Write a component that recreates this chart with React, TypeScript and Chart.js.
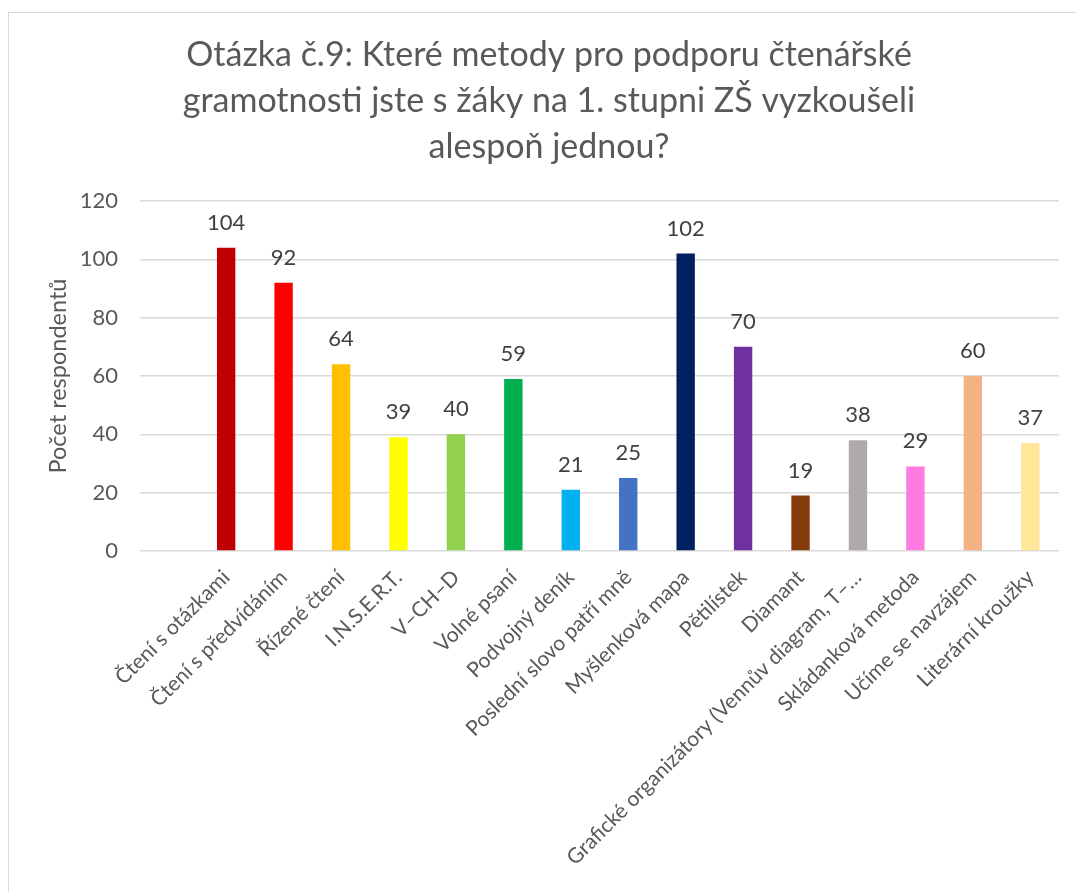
import React, { useEffect, useRef } from "react";
import { Chart, registerables } from "chart.js";

Chart.register(...registerables);

const titleLines = [
  "Otázka č.9: Které metody pro podporu čtenářské",
  "gramotnosti jste s žáky na 1. stupni ZŠ vyzkoušeli",
  "alespoň jednou?",
];

const categories = [
  "",
  "Čtení s otázkami",
  "Čtení s předvídáním",
  "Řízené čtení",
  "I.N.S.E.R.T.",
  "V–CH–D",
  "Volné psaní",
  "Podvojný deník",
  "Poslední slovo patří mně",
  "Myšlenková mapa",
  "Pětilístek",
  "Diamant",
  "Grafické organizátory (Vennův diagram, T–…",
  "Skládanková metoda",
  "Učíme se navzájem",
  "Literární kroužky",
];

const values: (number | null)[] = [
  null, 104, 92, 64, 39, 40, 59, 21, 25, 102, 70, 19, 38, 29, 60, 37,
];

const barColors = [
  "#ffffff",
  "#C00000",
  "#FF0000",
  "#FFC000",
  "#FFFF00",
  "#92D050",
  "#00B050",
  "#00B0F0",
  "#4472C4",
  "#002060",
  "#7030A0",
  "#843C0C",
  "#AEAAAA",
  "#FF7BE3",
  "#F4B183",
  "#FFE699",
];

const yTicks = [0, 20, 40, 60, 80, 100, 120];
const yAxisTitle = "Počet respondentů";

const FONT = "Lato, 'Open Sans', sans-serif";

const dataLabelPlugin = {
  id: "dataLabels",
  afterDatasetsDraw(chart: any) {
    const ctx = chart.ctx;
    const meta = chart.getDatasetMeta(0);
    ctx.save();
    ctx.font = `22px ${FONT}`;
    ctx.fillStyle = "#404040";
    ctx.textAlign = "center";
    ctx.textBaseline = "alphabetic";
    meta.data.forEach((bar: any, i: number) => {
      const v = values[i];
      if (v == null) return;
      ctx.fillText(String(v), bar.x, bar.y - 18);
    });
    ctx.restore();
  },
};

const titlePlugin = {
  id: "customTitle",
  afterDraw(chart: any) {
    const ctx = chart.ctx;
    ctx.save();
    ctx.font = `34px ${FONT}`;
    ctx.fillStyle = "#595959";
    ctx.textAlign = "center";
    ctx.textBaseline = "alphabetic";
    titleLines.forEach((line, i) => {
      ctx.fillText(line, 549, 66 + i * 46);
    });
    ctx.restore();
  },
};

export default function App() {
  const ref = useRef<HTMLCanvasElement | null>(null);

  useEffect(() => {
    if (!ref.current) return;
    const chart = new Chart(ref.current, {
      type: "bar",
      data: {
        labels: categories,
        datasets: [
          {
            data: values as any,
            backgroundColor: barColors,
            barPercentage: 0.32,
            categoryPercentage: 1,
          },
        ],
      },
      options: {
        animation: false,
        responsive: true,
        maintainAspectRatio: false,
        layout: { padding: { left: 0, right: 17, top: 201, bottom: 0 } },
        plugins: {
          legend: { display: false },
          tooltip: { enabled: false },
          title: { display: false },
        },
        scales: {
          x: {
            grid: { display: false, drawTicks: false },
            border: { display: false },
            ticks: {
              autoSkip: false,
              maxRotation: 45,
              minRotation: 45,
              padding: 14,
              color: "#595959",
              font: { family: FONT, size: 21 },
            },
            afterFit: (scale: any) => {
              scale.height = 341;
            },
          },
          y: {
            min: 0,
            max: 120,
            afterBuildTicks: (scale: any) => {
              scale.ticks = yTicks.map((v) => ({ value: v }));
            },
            grid: { color: "#d9d9d9", lineWidth: 1.5, drawTicks: false },
            border: { display: false },
            ticks: {
              padding: 22,
              color: "#595959",
              font: { family: FONT, size: 22 },
            },
            title: {
              display: true,
              text: yAxisTitle,
              color: "#595959",
              font: { family: FONT, size: 23.5 },
              padding: { top: 44, bottom: 0 },
            },
            afterFit: (scale: any) => {
              scale.width = 140;
            },
          },
        },
      },
      plugins: [dataLabelPlugin, titlePlugin],
    });
    return () => chart.destroy();
  }, []);

  return (
    <div style={{ position: "absolute", left: 0, top: 0, width: 1076, height: 892, overflow: "hidden", background: "#fff" }}>
      <div
        style={{
          position: "absolute",
          left: 8,
          top: 12,
          width: 1200,
          height: 1000,
          borderLeft: "1.5px solid #d9d9d9",
          borderTop: "1.5px solid #d9d9d9",
        }}
      />
      <div style={{ position: "absolute", left: 0, top: 0, width: 1076, height: 892 }}>
        <canvas ref={ref} />
      </div>
    </div>
  );
}
